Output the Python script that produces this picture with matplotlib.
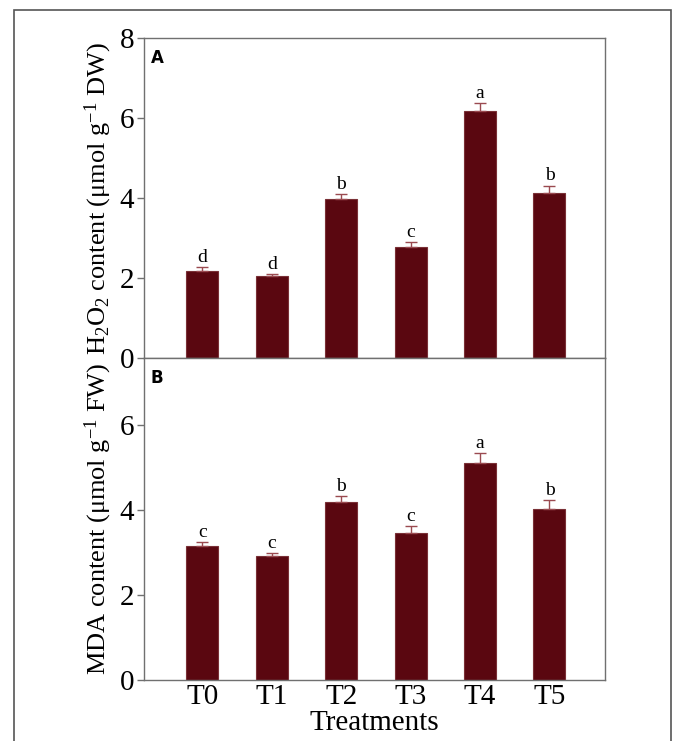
import matplotlib
matplotlib.use("Agg")
import matplotlib.pyplot as plt
from matplotlib.patches import Rectangle
import numpy as np

plt.rcParams['font.family'] = ['Liberation Serif', 'DejaVu Serif']
plt.rcParams['mathtext.fontset'] = 'custom'
plt.rcParams['mathtext.rm'] = 'Liberation Serif'
plt.rcParams['mathtext.it'] = 'Liberation Serif:italic'

## data
treatments = ['T0', 'T1', 'T2', 'T3', 'T4', 'T5']
h2o2 = [2.18, 2.05, 3.98, 2.77, 6.18, 4.13]
h2o2_err = [0.10, 0.05, 0.12, 0.12, 0.20, 0.18]
h2o2_letters = ['d', 'd', 'b', 'c', 'a', 'b']
mda = [3.15, 2.92, 4.20, 3.45, 5.12, 4.02]
mda_err = [0.10, 0.06, 0.12, 0.18, 0.22, 0.22]
mda_letters = ['c', 'c', 'b', 'c', 'a', 'b']

bar_col = '#5a0710'
err_col = '#9a4a50'
spine_col = '#707070'

fig = plt.figure(figsize=(6.73, 7.41), dpi=100)
## outer frame around the whole figure
fig.patches.append(Rectangle((14/673, -0.05), (671-14)/673, 1.05 - 10/741,
                             transform=fig.transFigure, fill=False,
                             edgecolor='#555555', linewidth=1.2))

left = 144/673
width = (605-144)/673
axA = fig.add_axes([left, 1-358/741, width, (358-38)/741])
axB = fig.add_axes([left, 1-680/741, width, (680-358)/741])

x = np.arange(len(treatments))

def draw(ax, vals, errs, letters, ylim, yticks, ylabel, panel):
    ax.bar(x, vals, width=0.46, color=bar_col, edgecolor='#7a3036', linewidth=0.8, zorder=2)
    ax.errorbar(x, vals, yerr=[np.zeros(len(errs)), errs], fmt='none',
                ecolor=err_col, elinewidth=1.0, capsize=4, capthick=1.0, zorder=3)
    for xi, v, e, l in zip(x, vals, errs, letters):
        ax.text(xi, v + e + 0.03, l, ha='center', va='bottom', fontsize=14)
    ax.set_xlim(-0.84, 5.8)
    ax.set_ylim(*ylim)
    ax.set_yticks(yticks)
    ax.tick_params(axis='y', labelsize=21, length=5, width=1, color=spine_col, pad=2)
    ax.tick_params(axis='x', length=0)
    for s in ax.spines.values():
        s.set_color(spine_col)
        s.set_linewidth(1)
    ax.set_ylabel(ylabel, fontsize=19, labelpad=4)
    ax.text(0.015, 0.965, panel, transform=ax.transAxes, ha='left', va='top',
            fontsize=12, fontweight='bold', family='DejaVu Sans')

draw(axA, h2o2, h2o2_err, h2o2_letters, (0, 8), [0, 2, 4, 6, 8],
     r'H$_2$O$_2$ content ($\mathrm{\mu}$mol g$^{-1}$ DW)', 'A')
axA.set_xticks(x)
axA.set_xticklabels([])

draw(axB, mda, mda_err, mda_letters, (0, 7.58), [0, 2, 4, 6],
     r'MDA content ($\mathrm{\mu}$mol g$^{-1}$ FW)', 'B')
axB.set_xticks(x)
axB.set_xticklabels(treatments, fontsize=21)
axB.tick_params(axis='x', pad=3)
axB.set_xlabel('Treatments', fontsize=21, labelpad=0)

fig.savefig('out.png', dpi=100)
